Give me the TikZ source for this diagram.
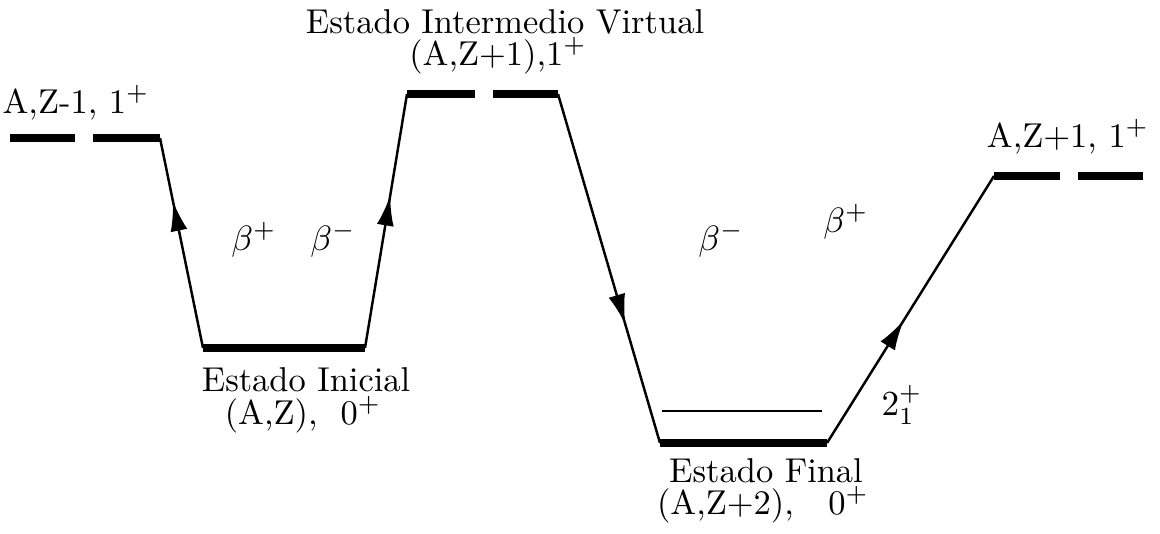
\documentclass[tikz,border=0pt]{standalone}
\usetikzlibrary{arrows.meta,decorations.markings}
\tikzset{
  nivel/.style={line width=2pt},
  nivelfino/.style={line width=0.6pt},
  trans/.style={line width=0.7pt,postaction={decorate},
    decoration={markings,mark=at position #1 with {\arrow{Latex[length=3mm,width=1.7mm]}}}},
  etiq/.style={font=\fontsize{9.8}{11.5}\selectfont,inner sep=0pt,align=center}
}
\begin{document}
\begin{tikzpicture}[x=0.01cm,y=-0.01cm]
        \useasboundingbox (0,0) rectangle (1160,533);

        % niveles
        \coordinate (zm1L) at (10,138);  \coordinate (zm1R) at (160,138);
        \coordinate (iniL) at (203,348); \coordinate (iniR) at (365,348);
        \coordinate (virL) at (407,94);  \coordinate (virR) at (558,94);
        \coordinate (finL) at (660,443); \coordinate (finR) at (827,443);
        \coordinate (zp1L) at (994,176); \coordinate (zp1R) at (1143,176);

        \draw[nivel] (zm1L) -- (75,138);  \draw[nivel] (93,138) -- (zm1R);
        \draw[nivel] (iniL) -- (iniR);
        \draw[nivel] (virL) -- (475,94); \draw[nivel] (493,94) -- (virR);
        \draw[nivel] (finL) -- (finR);
        \draw[nivelfino] (662,411) -- (822,411);
        \draw[nivel] (zp1L) -- (1060,176); \draw[nivel] (1078,176) -- (zp1R);

        % transiciones
        \draw[trans=0.70] (iniL) -- (zm1R);
        \draw[trans=0.60] (iniR) -- (virL);
        \draw[trans=0.66] (virR) -- (finL);
        \draw[trans=0.46] (finR) -- (zp1L);

        % etiquetas
        \node[etiq] (tzm1) at (76,103) {A,Z-1, 1$^+$};
        \node[etiq] (tvir) at (505,22) {Estado Intermedio Virtual};
        \node[etiq] (tvirb) at (498,56) {(A,Z+1),1$^+$};
        \node[etiq] (tini) at (306,380) {Estado Inicial};
        \node[etiq] (tinib) at (303,415) {(A,Z),\ \ 0$^+$};
        \node[etiq] (tfin) at (766,471) {Estado Final};
        \node[etiq] (tfinb) at (763,505) {(A,Z+2),\ \ \ 0$^+$};
        \node[etiq] (tzp1) at (1068,137) {A,Z+1, 1$^+$};
        \node[etiq] (tdos) at (902,405) {$2_1^+$};

        \node[etiq] (bp1) at (254,240) {$\beta^+$};
        \node[etiq] (bm1) at (333,240) {$\beta^-$};
        \node[etiq] (bm2) at (721,240) {$\beta^-$};
        \node[etiq] (bp2) at (846,222) {$\beta^+$};
      \end{tikzpicture}
\end{document}
